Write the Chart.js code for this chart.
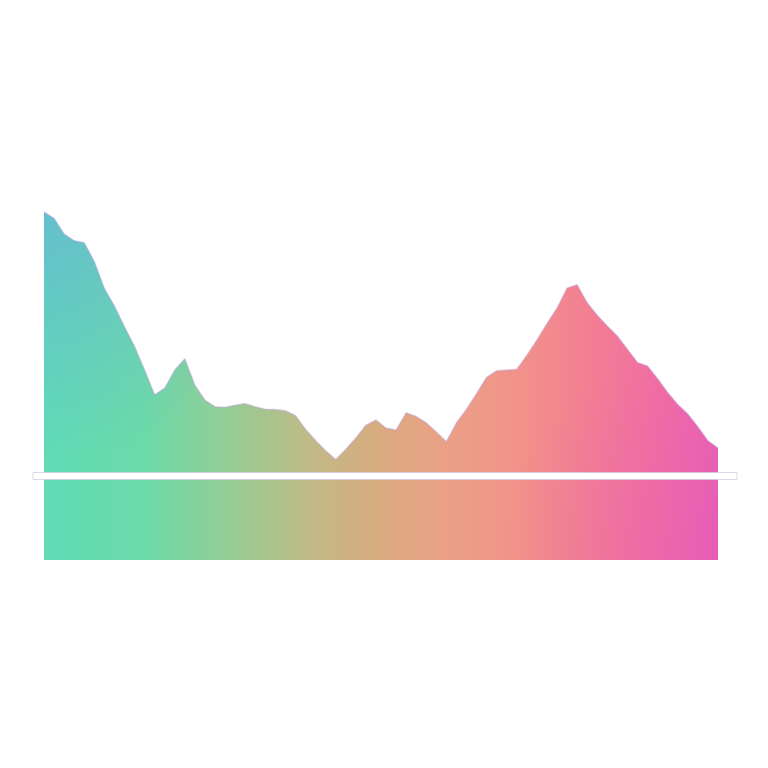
<!DOCTYPE html>
<html>
<head>
<meta charset="utf-8">
<script src="https://cdn.jsdelivr.net/npm/chart.js@4.4.1/dist/chart.umd.min.js"></script>
<style>
  html, body { margin: 0; padding: 0; background: #ffffff; }
  #wrap { width: 768px; height: 768px; position: relative; }
</style>
</head>
<body>
<div id="wrap"><canvas id="c"></canvas></div>
<script>
// Series values (evenly spaced samples)
const seriesValues = [
  87.0, 85.4, 81.5, 79.8, 79.3, 74.6, 67.9, 63.5, 58.3, 53.4,
  47.5, 41.3, 43.0, 47.5, 50.3, 43.7, 40.0, 38.3, 38.2, 38.7,
  39.1, 38.3, 37.7, 37.6, 37.3, 36.1, 32.7, 29.9, 27.3, 25.1,
  27.7, 30.5, 33.7, 35.0, 33.0, 32.5, 36.8, 35.9, 34.3, 32.0,
  29.6, 34.3, 37.7, 41.6, 45.7, 47.3, 47.5, 47.7, 51.2, 55.0,
  59.1, 63.0, 68.0, 68.8, 64.3, 61.2, 58.5, 56.0, 52.7, 49.4,
  48.5, 45.3, 41.9, 38.9, 36.5, 33.3, 29.8, 28.0
];
const categories = seriesValues.map((_, i) => String(i + 1));
const sliderLevel = [21];
const yRange = [0, 100];

const fillStops = [
  [0.00, '#5fdcb6'],
  [0.15, '#6cdaa8'],
  [0.30, '#9dc991'],
  [0.40, '#c2b986'],
  [0.50, '#d9aa80'],
  [0.60, '#eba086'],
  [0.70, '#f19389'],
  [0.80, '#f28092'],
  [0.90, '#f170a0'],
  [1.00, '#e862b2']
];

function areaFill(ctx) {
  const chart = ctx.chart;
  const a = chart.chartArea;
  if (!a) return '#f09088';
  const g = chart.ctx.createLinearGradient(a.left, 0, a.right, 0);
  fillStops.forEach(s => g.addColorStop(s[0], s[1]));
  return g;
}

const tintPlugin = {
  id: 'tint',
  afterDatasetsDraw(chart) {
    const c = chart.ctx, a = chart.chartArea;
    c.save();
    c.globalCompositeOperation = 'source-atop';
    let r = c.createRadialGradient(a.left, a.top + 40, 0, a.left, a.top + 40, 260);
    r.addColorStop(0, 'rgba(105,165,225,0.55)');
    r.addColorStop(1, 'rgba(105,165,225,0)');
    c.fillStyle = r;
    c.fillRect(0, 0, chart.width, chart.height);
    r = c.createRadialGradient(a.right, a.bottom, 0, a.right, a.bottom, 220);
    r.addColorStop(0, 'rgba(225,85,190,0.35)');
    r.addColorStop(1, 'rgba(225,85,190,0)');
    c.fillStyle = r;
    c.fillRect(0, 0, chart.width, chart.height);
    c.restore();
  },
  afterDraw(chart) {
    const c = chart.ctx, a = chart.chartArea;
    const y = chart.scales.y.getPixelForValue(sliderLevel[0]);
    const x0 = a.left - 11, x1 = a.right + 19;
    c.save();
    c.fillStyle = '#ffffff';
    c.strokeStyle = 'rgba(210,200,225,0.7)';
    c.lineWidth = 1;
    c.beginPath();
    c.rect(x0, y - 3.5, x1 - x0, 7);
    c.fill();
    c.stroke();
    c.fillStyle = '#ffffff';
    c.fillRect(a.left - 2, y - 3, a.right - a.left + 4, 6);
    c.restore();
  }
};

new Chart(document.getElementById('c'), {
  type: 'line',
  data: {
    labels: categories,
    datasets: [{
      data: seriesValues,
      fill: 'start',
      backgroundColor: areaFill,
      borderColor: 'rgba(195,160,215,0.45)',
      borderWidth: 1.5,
      borderJoinStyle: 'round',
      pointRadius: 0,
      tension: 0
    }]
  },
  options: {
    responsive: true,
    maintainAspectRatio: false,
    animation: false,
    layout: { padding: { left: 44, right: 50, top: 160, bottom: 208 } },
    plugins: { legend: { display: false }, tooltip: { enabled: false } },
    scales: {
      x: { display: false },
      y: { display: false, min: yRange[0], max: yRange[1] }
    }
  },
  plugins: [tintPlugin]
});
</script>
</body>
</html>
